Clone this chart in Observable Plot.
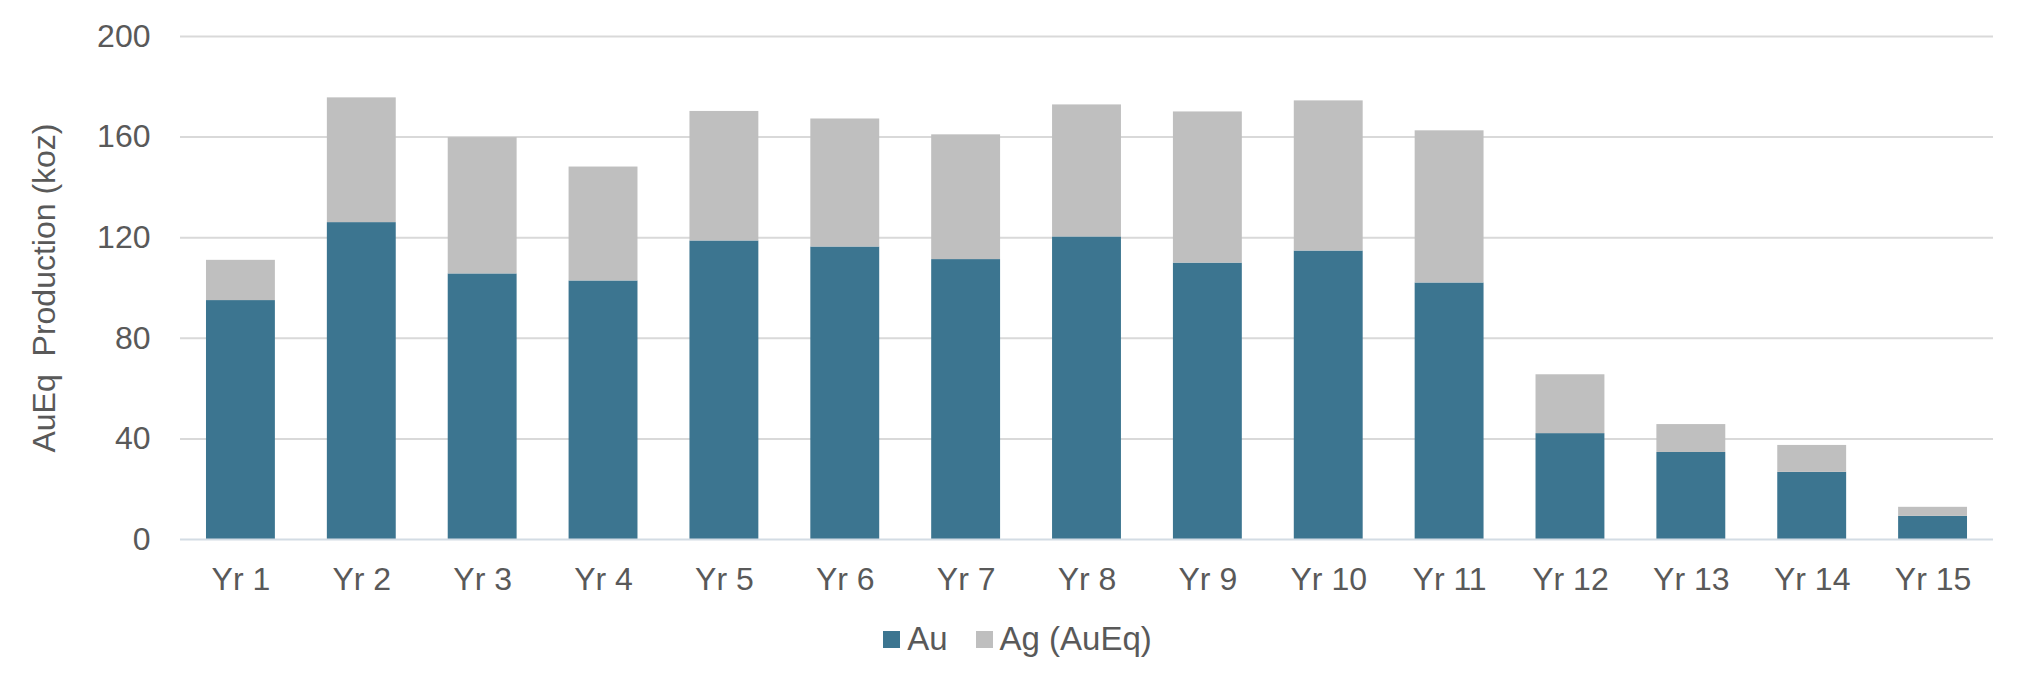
<!DOCTYPE html>
<html>
<head>
<meta charset="utf-8">
<script src="https://cdn.jsdelivr.net/npm/d3@7"></script>
<script src="https://cdn.jsdelivr.net/npm/@observablehq/plot@0.6"></script>
<style>
  html, body { margin: 0; padding: 0; background: #fff; }
  #chart { width: 2025px; height: 675px; font-family: "Liberation Sans", Arial, sans-serif; }
  .legend { display: flex; justify-content: center; align-items: center; height: 48px; font-size: 33px; color: #595959; padding-left: 10px; box-sizing: border-box; width: 2025px; }
  .item { display: flex; align-items: center; margin: 0 14px; }
  .sw { width: 17px; height: 17px; display: inline-block; margin-right: 7px; }
</style>
</head>
<body>
<div id="chart"></div>
<script>
const years = ["Yr 1","Yr 2","Yr 3","Yr 4","Yr 5","Yr 6","Yr 7","Yr 8","Yr 9","Yr 10","Yr 11","Yr 12","Yr 13","Yr 14","Yr 15"];
const au = [95, 126, 105.6, 102.8, 118.7, 116.3, 111.3, 120.3, 109.9, 114.7, 102, 42.1, 34.6, 26.7, 9.2];
const ag = [16, 49.6, 54.2, 45.3, 51.5, 50.9, 49.6, 52.5, 60.1, 59.7, 60.5, 23.4, 11.1, 10.7, 3.6];
const seriesNames = ["Au", "Ag (AuEq)"];
const seriesColors = ["#3c7590", "#bfbfbf"];
const yTicks = [0, 40, 80, 120, 160, 200];
const yLabel = "AuEq\u00a0 Production (koz)";

const rows = [];
years.forEach((yr, i) => {
  rows.push({year: yr, series: seriesNames[0], value: au[i]});
  rows.push({year: yr, series: seriesNames[1], value: ag[i]});
});

const chart = Plot.plot({
  width: 2025,
  height: 615,
  marginLeft: 180,
  marginRight: 32,
  marginTop: 36,
  marginBottom: 76,
  style: {fontFamily: '"Liberation Sans", Arial, sans-serif', fontSize: "32px", color: "#595959", background: "#fff"},
  x: {domain: years, paddingInner: 0.43, paddingOuter: 0.215, round: false, label: null},
  y: {domain: [0, 200], label: null},
  color: {domain: seriesNames, range: seriesColors},
  marks: [
    Plot.ruleY(yTicks.filter(d => d > 0), {stroke: "#d9d9d9", strokeWidth: 2}),
    Plot.barY(rows, {x: "year", y: "value", fill: "series", order: null}),
    Plot.ruleY([0], {stroke: "#d3dce4", strokeWidth: 2}),
    Plot.axisX({tickSize: 0, tickPadding: 28, fontSize: 32, fill: "#595959", label: null}),
    Plot.axisY({ticks: yTicks, tickSize: 0, tickPadding: 30, fontSize: 32, fill: "#595959",
      label: yLabel, labelAnchor: "center", labelArrow: "none", labelOffset: 148})
  ]
});

const root = document.getElementById("chart");
root.appendChild(chart);

const legend = document.createElement("div");
legend.className = "legend";
seriesNames.forEach((name, i) => {
  const item = document.createElement("span");
  item.className = "item";
  const sw = document.createElement("span");
  sw.className = "sw";
  sw.style.background = seriesColors[i];
  const txt = document.createElement("span");
  txt.textContent = name;
  item.appendChild(sw);
  item.appendChild(txt);
  legend.appendChild(item);
});
root.appendChild(legend);
</script>
</body>
</html>
